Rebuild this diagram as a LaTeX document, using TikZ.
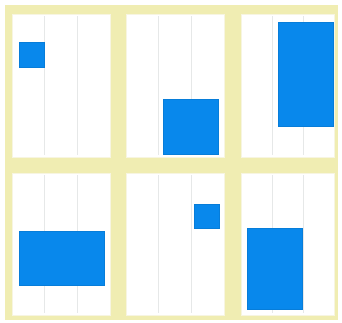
\documentclass[tikz,border=0pt]{standalone}
\definecolor{bgyellow}{RGB}{240,237,178}
\definecolor{boxblue}{RGB}{8,136,236}
\definecolor{gridline}{RGB}{230,232,232}
\definecolor{paneledge}{RGB}{247,245,225}
\tikzset{
  panel/.style={fill=white, draw=paneledge, line width=1pt},
  colline/.style={draw=gridline, line width=0.6pt},
  block/.style={fill=boxblue, draw=boxblue!92!black, line width=0.3pt}
}
\newcommand{\mypanel}[4]{%
  \draw[panel] (#1,#2) rectangle (#3,#4);
  \pgfmathsetmacro{\ca}{#1+(#3-#1)/3}
  \pgfmathsetmacro{\cb}{#1+2*(#3-#1)/3}
  \draw[colline] (\ca,#2+2) -- (\ca,#4-2);
  \draw[colline] (\cb,#2+2) -- (\cb,#4-2);
}
\begin{document}
\begin{tikzpicture}[x=1pt,y=-1pt]
\useasboundingbox (0,0) rectangle (342,322);
\fill[white] (0,0) rectangle (342,322);
\fill[bgyellow] (5,5) rectangle (338,320);
% panels
\mypanel{12}{14}{110}{157}
\mypanel{126}{14}{224}{157}
\mypanel{241}{14}{334}{157}
\mypanel{12}{173}{110}{315}
\mypanel{126}{173}{224}{315}
\mypanel{241}{173}{334}{315}
% blue blocks
\draw[block] (19,42) rectangle (44,67);
\draw[block] (163,99) rectangle (218,154);
\draw[block] (278,22) rectangle (333,126);
\draw[block] (19,231) rectangle (104,285);
\draw[block] (194,204) rectangle (219,228);
\draw[block] (247,228) rectangle (302,309);
\end{tikzpicture}
\end{document}
